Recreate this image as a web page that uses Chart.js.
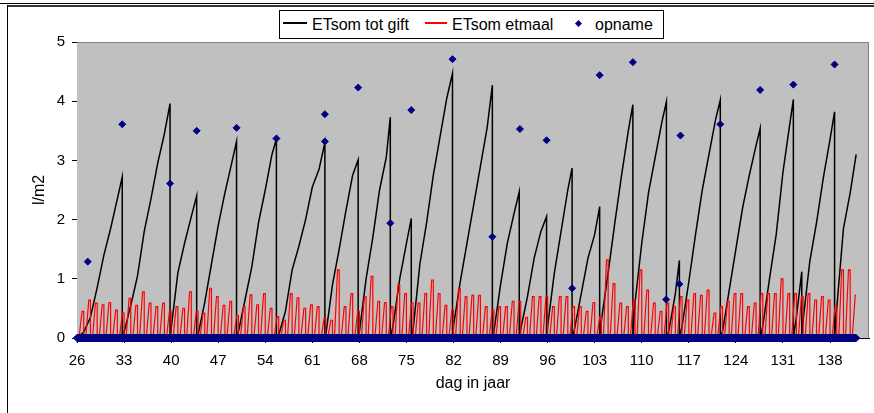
<!DOCTYPE html>
<html lang="nl">
<head>
<meta charset="UTF-8">
<title>ETsom en opname</title>
<script src="https://cdn.jsdelivr.net/npm/chart.js"></script>
<style>
  body { margin: 0; background: #fff; }
  #wrap { position: relative; width: 874px; height: 413px; overflow: hidden; font-family: "Liberation Sans", Arial, sans-serif; }
  #wrap canvas { position: absolute; left: 0; top: 0; }
  .rand { position: absolute; }
  #legenda { position: absolute; left: 279px; top: 10px; width: 383px; height: 27px; border: 1px solid #000; background: #fff; font-size: 16px; color: #000; }
  #legenda span { position: absolute; top: 5px; line-height: 18px; white-space: nowrap; }
  #legenda b { position: absolute; display: block; }
</style>
</head>
<body>
<div id="wrap">
  <canvas id="etChart" width="874" height="413"></canvas>
  <div class="rand" style="left:0;top:3px;width:874px;height:1px;background:#000"></div>
  <div class="rand" style="left:7px;top:5px;width:867px;height:2px;background:#333"></div>
  <div class="rand" style="left:7px;top:5px;width:1px;height:408px;background:#000"></div>
  <div id="legenda">
    <b style="left:3px;top:11px;width:24px;height:2px;background:#000"></b>
    <span style="left:32px">ETsom tot gift</span>
    <b style="left:145px;top:11px;width:22px;height:2px;background:#ff0000"></b>
    <span style="left:172px">ETsom etmaal</span>
    <b style="left:296px;top:10px;width:5px;height:5px;background:#000080;transform:rotate(45deg)"></b>
    <span style="left:315px">opname</span>
  </div>
</div>

<script>
    // x-as: dag in jaar
    const tickDagen = [26, 33, 40, 47, 54, 61, 68, 75, 82, 89, 96, 103, 110, 117, 124, 131, 138];
    const eersteDag = 26;
    const laatsteMoment = 141.89;

    // ETsom tot gift: stand om middernacht, dag 26 t/m 141
    const totGiftMiddernacht = [
        0, 0.1, 0.35, 0.85, 1.4, 1.85, 2.35,            // 26-32
        0.1, 0.55, 1.05, 1.8, 2.35, 2.95, 3.45,         // 33-39
        0.15, 1.1, 1.6, 2.05,                           // 40-43
        0.05, 0.6, 1.25, 1.9, 2.45, 2.95,               // 44-49
        0.1, 0.65, 1.2, 1.95, 2.5, 3.1,                 // 50-55
        0.05, 0.45, 1.15, 1.55, 2.0, 2.55, 2.85,        // 56-62
        0.05, 0.9, 1.5, 2.15, 2.75,                     // 63-67
        0.1, 1.0, 1.7, 2.5, 3.05,                       // 68-72
        0.2, 1.0, 1.6,                                  // 73-75
        0.15, 1.25, 1.95, 2.75, 3.4, 4.05,              // 76-81
        0.2, 0.95, 1.6, 2.25, 2.9, 3.55,                // 82-87
        0.1, 0.9, 1.6, 2.1,                             // 88-91
        0.15, 0.7, 1.35, 1.8,                           // 92-95
        0.2, 1.1, 1.8, 2.5,                             // 96-99
        0.15, 0.75, 1.35, 1.75,                         // 100-103
        0.3, 1.1, 1.95, 2.75, 3.5,                      // 104-108
        0.6, 1.6, 2.45, 3.05, 3.65,                     // 109-113
        0.1, 0.75,                                      // 114-115
        0.2, 0.95, 1.75, 2.5, 3.1, 3.7,                 // 116-121
        0.1, 0.8, 1.5, 2.2, 2.75, 3.25,                 // 122-127
        0.2, 1.0, 1.75, 2.8, 3.6,                       // 128-132
        0.35, 0.3, 1.3, 1.95, 2.7, 3.35,                // 133-138
        0.5, 1.85, 2.45                                 // 139-141
    ];
    const totGiftEind = 3.1;

    // momenten van gift (dag) en de stand vlak ervoor
    const giftMoment = [32.73, 39.84, 43.8, 49.73, 55.66, 62.87, 67.82, 72.6, 75.72, 81.85, 87.78, 91.78,
                        95.84, 99.64, 103.74, 108.68, 113.67, 115.6, 121.68, 127.61, 132.55, 133.8, 138.68];
    const giftPiek = [2.72, 3.96, 2.40, 3.32, 3.36, 3.30, 3.01, 3.73, 2.02, 4.47, 4.27, 2.47,
                      2.05, 2.87, 2.22, 3.94, 3.99, 1.31, 4.02, 3.54, 4.03, 1.12, 3.82];

    // ETsom etmaal: dagtotaal, dag 26 t/m 141
    const etmaalPiek = [
        0.45, 0.64, 0.59, 0.56, 0.6, 0.47, 0.42, 0.67, 0.55, 0.78,      // 26-35
        0.59, 0.53, 0.59, 0.45, 0.53, 0.5, 0.78, 0.45, 0.42, 0.84,      // 36-45
        0.7, 0.55, 0.62, 0.38, 0.53, 0.73, 0.56, 0.75, 0.5, 0.36,       // 46-55
        0.3, 0.75, 0.68, 0.5, 0.56, 0.53, 0.33, 0.3, 1.15, 0.53,        // 56-65
        0.75, 0.45, 0.7, 1.04, 0.62, 0.6, 0.53, 0.9, 0.75, 0.59,        // 66-75
        0.59, 0.75, 0.98, 0.75, 0.55, 0.47, 0.84, 0.7, 0.72, 0.72,      // 76-85
        0.53, 0.47, 0.53, 0.53, 0.62, 0.62, 0.35, 0.7, 0.7, 0.7,        // 86-95
        0.53, 0.7, 0.7, 0.53, 0.53, 0.45, 0.6, 0.36, 1.32, 0.92,        // 96-105
        0.59, 0.53, 0.64, 1.15, 0.81, 0.59, 0.45, 0.59, 0.53, 0.7,      // 106-115
        0.64, 0.75, 0.72, 0.81, 0.42, 0.53, 0.62, 0.75, 0.75, 0.53,     // 116-125
        0.59, 0.75, 0.75, 0.75, 1.0, 0.75, 0.75, 0.7, 0.75, 0.64,       // 126-135
        0.7, 0.64, 0.53, 1.15, 1.15, 0.72                               // 136-141
    ];
    const zonOp = 0.3;     // deel van de dag waarop verdamping begint
    const zonTop = 0.75;   // deel van de dag waarop het dagtotaal bereikt is

    // opname (alleen de gemeten waarden, verder 0)
    const opnameDag = [27.6, 32.73, 39.84, 43.8, 49.73, 55.66, 62.87, 62.87, 67.82, 72.6, 75.72, 81.85,
                       87.78, 91.88, 95.84, 99.64, 103.74, 108.68, 113.63, 115.6, 115.76, 121.68, 127.61, 132.55, 138.68];
    const opnameWaarde = [1.29, 3.61, 2.61, 3.50, 3.55, 3.37, 3.78, 3.32, 4.23, 1.94, 3.85, 4.71,
                          1.71, 3.53, 3.34, 0.84, 4.44, 4.66, 0.65, 0.91, 3.42, 3.61, 4.19, 4.28, 4.62];

    // lijn ETsom tot gift
    const totGiftPunten = [];
    totGiftMiddernacht.forEach((v, i) => totGiftPunten.push({ x: eersteDag + i, y: v }));
    giftMoment.forEach((t, i) => {
        totGiftPunten.push({ x: t, y: giftPiek[i] });
        totGiftPunten.push({ x: t, y: 0 });
    });
    totGiftPunten.push({ x: laatsteMoment, y: totGiftEind });
    totGiftPunten.sort((a, b) => a.x - b.x);

    // lijn ETsom etmaal
    const etmaalPunten = [];
    etmaalPiek.forEach((p, i) => {
        const d = eersteDag + i;
        const eind = Math.min(d + 1, laatsteMoment);
        etmaalPunten.push({ x: d, y: 0 });
        etmaalPunten.push({ x: d + zonOp, y: 0 });
        etmaalPunten.push({ x: d + zonTop, y: p });
        etmaalPunten.push({ x: eind, y: p });
    });

    // opname: elk uur een meting, meestal 0
    const opnamePunten = [];
    for (let u = 0; eersteDag + u / 24 <= laatsteMoment; u++) {
        opnamePunten.push({ x: eersteDag + u / 24, y: 0 });
    }
    opnameDag.forEach((d, i) => opnamePunten.push({ x: d, y: opnameWaarde[i] }));

    const plotVlak = {
        id: 'plotVlak',
        beforeDatasetsDraw(chart) {
            const { ctx, chartArea: a } = chart;
            ctx.save();
            ctx.fillStyle = '#c0c0c0';
            ctx.fillRect(a.left, a.top, a.right - a.left, a.bottom - a.top);
            ctx.strokeStyle = '#808080';
            ctx.lineWidth = 1;
            ctx.beginPath();
            ctx.moveTo(a.left, a.top + 0.5);
            ctx.lineTo(a.right - 0.5, a.top + 0.5);
            ctx.lineTo(a.right - 0.5, a.bottom);
            ctx.stroke();
            ctx.restore();
        }
    };

    Chart.defaults.font.family = '"Liberation Sans", Arial, sans-serif';
    Chart.defaults.color = '#000';

    const ctx = document.getElementById('etChart').getContext('2d');
    new Chart(ctx, {
        type: 'line',
        data: {
            datasets: [
                {
                    label: 'opname',
                    data: opnamePunten,
                    showLine: false,
                    pointStyle: 'rectRot',
                    pointRadius: 3.5,
                    pointBackgroundColor: '#000080',
                    pointBorderColor: '#000080',
                    pointBorderWidth: 1,
                    clip: false,
                    order: 0
                },
                {
                    label: 'ETsom etmaal',
                    data: etmaalPunten,
                    borderColor: '#ff0000',
                    borderWidth: 1.2,
                    pointRadius: 0,
                    tension: 0,
                    order: 1
                },
                {
                    label: 'ETsom tot gift',
                    data: totGiftPunten,
                    borderColor: '#000000',
                    borderWidth: 1.5,
                    pointRadius: 0,
                    tension: 0,
                    order: 2
                }
            ]
        },
        options: {
            responsive: false,
            animation: false,
            devicePixelRatio: 1,
            layout: { padding: { top: 42, right: 2, left: 0, bottom: 0 } },
            plugins: {
                legend: { display: false },
                tooltip: { enabled: false }
            },
            scales: {
                x: {
                    type: 'linear',
                    min: 26,
                    max: 143.8,
                    afterBuildTicks: s => { s.ticks = tickDagen.map(v => ({ value: v })); },
                    afterFit: s => { s.height = 75; },
                    ticks: { font: { size: 15 }, padding: 9, maxRotation: 0, autoSkip: false },
                    grid: { drawOnChartArea: false, drawTicks: true, tickLength: 5, color: '#000' },
                    border: { display: true, color: '#000' },
                    title: { display: true, text: 'dag in jaar', font: { size: 16 }, padding: { top: 0, bottom: 20 } }
                },
                y: {
                    min: 0,
                    max: 5,
                    afterFit: s => { s.width = 77; },
                    ticks: { stepSize: 1, font: { size: 15 }, padding: 7 },
                    grid: { drawOnChartArea: false, drawTicks: true, tickLength: 5, color: '#000' },
                    border: { display: true, color: '#000' },
                    title: { display: true, text: 'l/m2', font: { size: 16 }, padding: { top: 30, bottom: 0 } }
                }
            }
        },
        plugins: [plotVlak]
    });
</script>
</body>
</html>
